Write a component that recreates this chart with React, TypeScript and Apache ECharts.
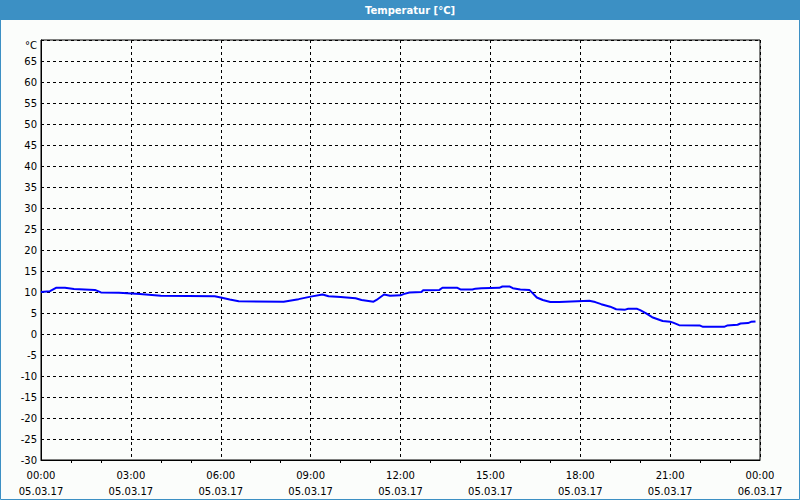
import React, { useEffect, useRef } from "react";
import * as echarts from "echarts";

const titleText = "Temperatur [°C]";
const hours = [0, 0.3, 0.5, 0.8, 1.1, 1.8, 2.0, 2.6, 3.3, 4.0, 5.8, 6.0, 6.3, 6.6, 8.1, 8.6, 9.0, 9.4, 9.6, 10.0, 10.5, 10.7, 11.1, 11.2, 11.45, 11.65, 12.0, 12.1, 12.3, 12.7, 12.75, 13.3, 13.4, 13.9, 14.0, 14.4, 14.5, 14.7, 15.3, 15.4, 15.65, 15.75, 16.0, 16.3, 16.4, 16.55, 16.75, 17.0, 17.3, 17.9, 18.3, 18.5, 18.7, 19.0, 19.2, 19.5, 19.6, 19.9, 20.0, 20.2, 20.4, 20.75, 21.0, 21.1, 21.3, 22.0, 22.1, 22.8, 22.9, 23.25, 23.35, 23.6, 23.7, 23.85];
const temps = [10.0, 10.2, 11.0, 11.0, 10.7, 10.5, 9.9, 9.8, 9.5, 9.1, 9.0, 8.7, 8.2, 7.8, 7.7, 8.3, 8.9, 9.4, 9.0, 8.8, 8.5, 8.1, 7.7, 8.1, 9.4, 9.1, 9.2, 9.5, 9.9, 10.0, 10.4, 10.5, 11.0, 11.0, 10.6, 10.6, 10.8, 10.9, 11.0, 11.3, 11.3, 10.9, 10.6, 10.5, 9.8, 8.7, 8.1, 7.6, 7.6, 7.8, 7.9, 7.6, 7.1, 6.5, 5.9, 5.8, 6.0, 6.0, 5.7, 4.9, 4.0, 3.1, 2.9, 2.7, 2.1, 2.0, 1.7, 1.7, 2.0, 2.2, 2.5, 2.6, 2.9, 3.0];
const xTickHours = [0, 3, 6, 9, 12, 15, 18, 21, 24];
const xTimeLabels = ["00:00", "03:00", "06:00", "09:00", "12:00", "15:00", "18:00", "21:00", "00:00"];
const xDateLabels = ["05.03.17", "05.03.17", "05.03.17", "05.03.17", "05.03.17", "05.03.17", "05.03.17", "05.03.17", "06.03.17"];
const yUnit = "°C";

const BLUE = "#3c90c4";
const FONT = "DejaVu Sans";

export default function App() {
  const ref = useRef<HTMLDivElement>(null);
  useEffect(() => {
    if (!ref.current) return;
    const chart = echarts.init(ref.current, null, { renderer: "svg" });
    const data = hours.map((h, i) => [h, temps[i]]);
    chart.setOption({
      animation: false,
      backgroundColor: "#fbfdfb",
      grid: {
        left: 41,
        right: 40,
        top: 40,
        bottom: 40,
        show: true,
        borderColor: "#000",
        borderWidth: 1,
        backgroundColor: "transparent",
      },
      xAxis: {
        type: "value",
        min: 0,
        max: 24,
        interval: 3,
        axisLine: { show: true, onZero: false, lineStyle: { color: "#000", width: 1 } },
        axisTick: { show: false },
        minorTick: { show: true, splitNumber: 3, length: 3, lineStyle: { color: "#000" } },
        splitLine: { show: true, lineStyle: { color: "#000", type: [3, 3], width: 1 } },
        axisLabel: {
          color: "#000",
          fontFamily: FONT,
          fontSize: 10,
          lineHeight: 16,
          margin: 7,
          showMaxLabel: true,
          showMinLabel: true,
          formatter: (v: number) => {
            const i = xTickHours.indexOf(Math.round(v));
            return i >= 0 ? xTimeLabels[i] + "\n" + xDateLabels[i] : "";
          },
        },
      },
      yAxis: {
        type: "value",
        min: -30,
        max: 70,
        interval: 5,
        axisLine: { show: true, onZero: false, lineStyle: { color: "#000", width: 1 } },
        axisTick: { show: false },
        splitLine: { show: true, lineStyle: { color: "#000", type: [3, 3], width: 1 } },
        axisLabel: {
          color: "#000",
          fontFamily: FONT,
          fontSize: 10,
          margin: 4,
          showMaxLabel: true,
          formatter: (v: number) => (v === 70 ? "{u|" + yUnit + "}" : String(v)),
          rich: {
            u: { padding: [10, 0, 0, 0], fontFamily: FONT, fontSize: 10, color: "#000" },
          },
        },
      },
      series: [
        {
          type: "line",
          data,
          symbol: "none",
          smooth: false,
          lineStyle: { color: "#0000ff", width: 2 },
        },
      ],
      graphic: [
        {
          type: "rect",
          shape: { x: 0, y: 0, width: 800, height: 20 },
          style: { fill: BLUE },
          z: 10,
        },
        {
          type: "text",
          x: 410,
          y: 10,
          style: {
            text: titleText,
            fill: "#fff",
            font: `bold 10px "${FONT}"`,
            align: "center",
            verticalAlign: "middle",
          },
          z: 11,
        },
        {
          type: "rect",
          shape: { x: 0.5, y: 0.5, width: 799, height: 499 },
          style: { fill: "none", stroke: BLUE, lineWidth: 1 },
          z: 10,
        },
      ],
    });
    return () => chart.dispose();
  }, []);
  return (
    <div
      ref={ref}
      style={{ position: "fixed", left: 0, top: 0, width: 800, height: 500 }}
    />
  );
}
